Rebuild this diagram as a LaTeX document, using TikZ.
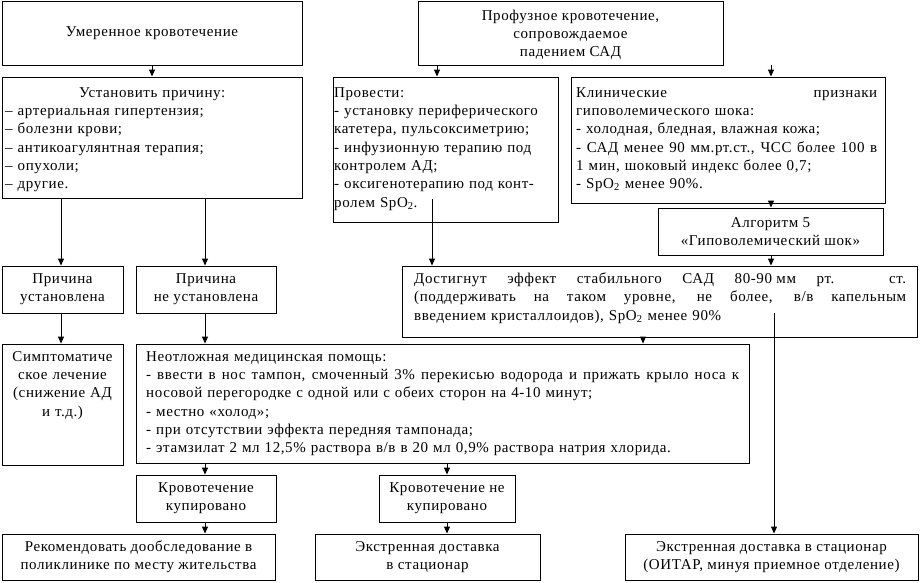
\documentclass[tikz,border=0pt]{standalone}
\usepackage{fontspec}
\setmainfont{Liberation Serif}[LetterSpace=4.0]
\usetikzlibrary{arrows.meta}
\newcommand\jline[1]{{\spaceskip=0pt\xspaceskip=0pt\makebox[\hsize][s]{#1}}}
\tikzset{
  x=1pt, y=-1pt,
  box/.style={draw, line width=0.9pt, inner sep=0pt, align=center},
  txt/.style={inner sep=0pt, align=left},
  arr/.style={line width=0.9pt, -{Triangle[width=6pt,length=7pt]}}
}
\begin{document}
\begin{tikzpicture}[font=\fontsize{15}{18.3}\selectfont]
\fill[white] (0,0) rectangle (921,582);
\useasboundingbox (0,0) rectangle (921,582);
% boxes
\node[box, minimum width=300pt, minimum height=64pt] (a) at (152,33) {Умеренное кровотечение};
\node[box, minimum width=305pt, minimum height=64pt] (c) at (570.5,33) {};
\node[box, minimum width=300pt, minimum height=121pt] (b) at (152,137.5) {};
\node[box, minimum width=225pt, minimum height=145pt] (d) at (445.5,149.5) {};
\node[box, minimum width=314pt, minimum height=126pt] (e) at (728,140) {};
\node[box, minimum width=225pt, minimum height=47pt] (f) at (770.5,231.5) {Алгоритм 5\\«Гиповолемический шок»};
\node[box, minimum width=515pt, minimum height=71pt] (g) at (659.5,301.5) {};
\node[box, minimum width=121pt, minimum height=47pt] (h) at (62.5,289.5) {Причина\\установлена};
\node[box, minimum width=140pt, minimum height=47pt] (i) at (206,289.5) {Причина\\не установлена};
\node[box, minimum width=121pt, minimum height=121pt] (j) at (62.5,404.5) {};
\node[box, minimum width=613pt, minimum height=119pt] (k) at (442.5,403.5) {};
\node[box, minimum width=140pt, minimum height=47pt] (l) at (206,498.5) {Кровотечение\\купировано};
\node[box, minimum width=136pt, minimum height=47pt] (m) at (447,498.5) {Кровотечение не\\купировано};
\node[box, minimum width=273pt, minimum height=46pt] (n) at (138.5,557) {Рекомендовать дообследование в\\поликлинике по месту жительства};
\node[box, minimum width=225pt, minimum height=46pt] (o) at (427.5,557) {Экстренная доставка\\в стационар};
\node[box, minimum width=293pt, minimum height=46pt] (p) at (771.5,557) {Экстренная доставка в стационар\\(ОИТАР, минуя приемное отделение)};
% texts
\node[txt, align=center, anchor=center] (ct) at (570.5,35) {Профузное кровотечение,\\сопровождаемое\\падением САД};
\node[txt, anchor=north west, text width=294pt] (bt) at (5,84.2) {\makebox[\hsize]{\strut Установить причину:}\\– артериальная гипертензия;\\– болезни крови;\\– антикоагулянтная терапия;\\– опухоли;\\– другие.};
\node[txt, anchor=north west, text width=222pt] (dt) at (334,84.2) {\strut Провести:\\- установку периферического\\катетера, пульсоксиметрию;\\- инфузионную терапию под\\контролем АД;\\- оксигенотерапию под конт-\\ролем SpO\textsubscript{2}.};
\node[txt, anchor=north west, text width=301pt] (et) at (576,84.2) {\jline{\strut Клинические признаки}\\гиповолемического шока:\\- холодная, бледная, влажная кожа;\\\jline{- САД менее 90 мм.рт.ст., ЧСС более 100 в}\\1 мин, шоковый индекс более 0,7;\\- SpO\textsubscript{2} менее 90\%.};
\node[txt, anchor=north west, text width=492pt] (gt) at (414,270.2) {\jline{\strut Достигнут эффект стабильного САД \hbox{80-90 мм} рт. ст.}\\\jline{(поддерживать на таком уровне, не более, в/в капельным}\\[1pt]введением кристаллоидов), SpO\textsubscript{2} менее 90\%};
\node[txt, anchor=north, align=center, text width=119pt] (jt) at (62.5,348.2) {\strut Симптоматиче\\ское лечение\\(снижение АД\\и т.д.)};
\node[txt, anchor=north west, text width=593pt] (kt) at (146,348.2) {\strut Неотложная медицинская помощь:\\\jline{- ввести в нос тампон, смоченный 3\% перекисью водорода и прижать крыло носа к}\\носовой перегородке с одной или с обеих сторон на 4-10 минут;\\- местно «холод»;\\- при отсутствии эффекта передняя тампонада;\\- этамзилат 2 мл 12,5\% раствора в/в в 20 мл 0,9\% раствора натрия хлорида.};
% connectors
\coordinate (dstart) at (432,199);
\coordinate (gstart) at (774,313);
\draw[arr] (a.south) -- (b.north);
\draw[arr] (437,0 |- c.south) -- (437,0 |- d.north);
\draw[arr] (771,0 |- c.south) -- (771,0 |- e.north);
\draw[arr] (61,0 |- b.south) -- (61,0 |- h.north);
\draw[arr] (205,0 |- b.south) -- (205,0 |- i.north);
\draw[arr] (dstart) -- (dstart |- g.north);
\draw[arr] (771,0 |- e.south) -- (771,0 |- f.north);
\draw[arr] (771,0 |- f.south) -- (771,0 |- g.north);
\draw[arr] (61,0 |- h.south) -- (61,0 |- j.north);
\draw[arr] (205,0 |- i.south) -- (205,0 |- k.north);
\draw[arr] (643,0 |- g.south) -- (643,0 |- k.north);
\draw[arr] (gstart) -- (gstart |- p.north);
\draw[arr] (205,0 |- k.south) -- (205,0 |- l.north);
\draw[arr] (447,0 |- k.south) -- (447,0 |- m.north);
\draw[arr] (205,0 |- l.south) -- (205,0 |- n.north);
\draw[arr] (447,0 |- m.south) -- (447,0 |- o.north);
\end{tikzpicture}
\end{document}
